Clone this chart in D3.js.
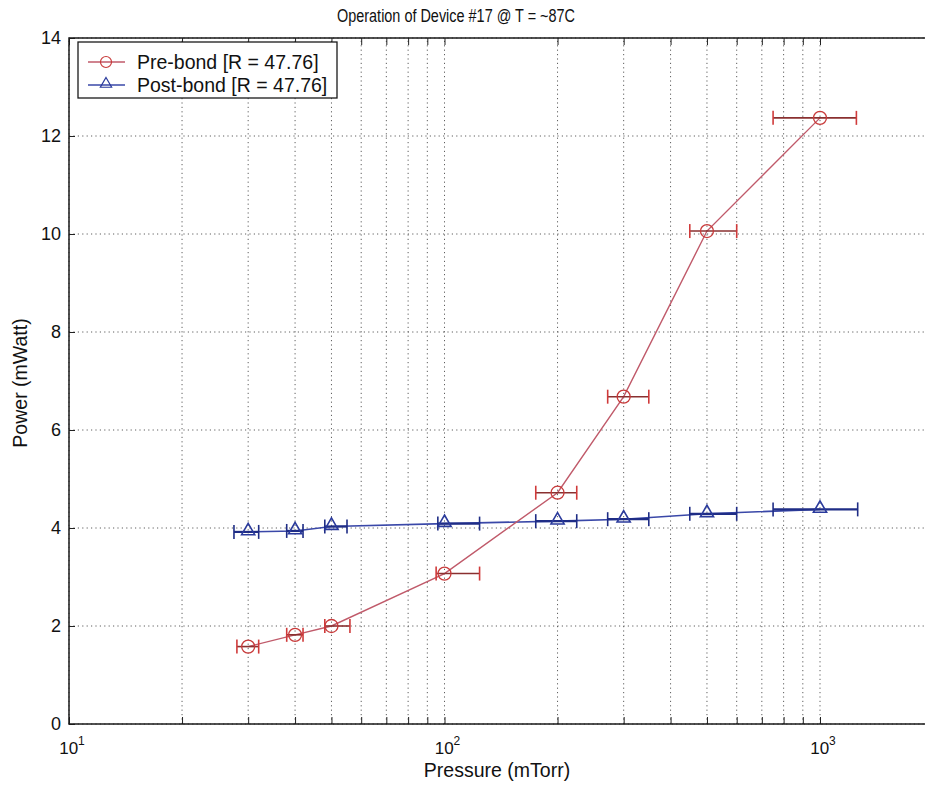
<!DOCTYPE html>
<html>
<head>
<meta charset="utf-8">
<script src="https://cdn.jsdelivr.net/npm/d3@7"></script>
<style>
  html, body { margin: 0; padding: 0; background: #fff; }
  svg { display: block; font-family: "Liberation Sans", Arial, sans-serif; }
</style>
</head>
<body>
<svg id="chart" width="925" height="788"></svg>
<script>
// Measured pressures (mTorr) and output power (mW)
const pressure = [30, 40, 50, 100, 200, 300, 500, 1000];
const preBond  = [1.58, 1.82, 2.0, 3.07, 4.72, 6.68, 10.06, 12.37];
const postBond = [3.92, 3.94, 4.03, 4.09, 4.14, 4.18, 4.29, 4.38];

// Pressure uncertainty ranges (low / high, mTorr)
const preLow   = [28, 38, 48, 95, 175, 272, 450, 750];
const preHigh  = [32, 42, 56, 124, 225, 350, 600, 1250];
const postLow  = [27.5, 38, 48, 96, 175, 272, 450, 750];
const postHigh = [32, 42, 55, 124, 225, 350, 600, 1260];

const seriesNames = ["Pre-bond [R = 47.76]", "Post-bond [R = 47.76]"];
const yTicks = [0, 2, 4, 6, 8, 10, 12, 14];
const xDecades = [10, 100, 1000];
const xMinor = [20, 30, 40, 50, 60, 70, 80, 90, 200, 300, 400, 500, 600, 700, 800, 900, 2000];

const svg = d3.select("#chart");

const plotLeft = 69, plotBottom = 724, plotTop = 38;
const decade = 375.5;
const x = d3.scaleLog().domain([10, 2000]).range([plotLeft, plotLeft + Math.log10(200) * decade]);
const y = d3.scaleLinear().domain([0, 14]).range([plotBottom, plotTop]);
const plotRight = x(2000);

// Grid
const grid = svg.append("g").attr("stroke", "#5e5e5e").attr("stroke-width", 1)
  .attr("stroke-dasharray", "1.2,3.2");
xDecades.concat(xMinor).forEach(v => {
  grid.append("line").attr("x1", x(v)).attr("x2", x(v)).attr("y1", y(0)).attr("y2", y(14));
});
yTicks.forEach(v => {
  grid.append("line").attr("x1", plotLeft).attr("x2", plotRight).attr("y1", y(v)).attr("y2", y(v));
});

// Frame with inward ticks
const axisG = svg.append("g");
const yAxis = d3.axisLeft(y).tickValues(yTicks).tickSize(-6).tickPadding(8).tickFormat(d3.format("d"));
const ga = axisG.append("g").attr("transform", `translate(${plotLeft},0)`).call(yAxis);
ga.select(".domain").remove();
ga.selectAll("line").attr("stroke", "#222");
ga.selectAll("text").attr("font-size", 18).attr("fill", "#111")
  .attr("font-family", "'Liberation Sans', Arial, sans-serif");

const xAxis = d3.axisBottom(x).tickValues(xDecades.concat(xMinor)).tickSize(-7).tickFormat(() => "");
const gx = axisG.append("g").attr("transform", `translate(0,${plotBottom})`).call(xAxis);
gx.select(".domain").remove();
gx.selectAll("line").attr("stroke", "#222");

const xAxisTop = d3.axisTop(x).tickValues(xDecades.concat(xMinor)).tickSize(-7).tickFormat(() => "");
const gxt = axisG.append("g").attr("transform", `translate(0,${plotTop})`).call(xAxisTop);
gxt.select(".domain").remove();
gxt.selectAll("line").attr("stroke", "#222");

axisG.append("rect").attr("x", plotLeft).attr("y", plotTop)
  .attr("width", plotRight - plotLeft).attr("height", plotBottom - plotTop)
  .attr("fill", "none").attr("stroke", "#1a1a1a").attr("stroke-width", 1.5);

// Decade labels 10^n
xDecades.forEach(v => {
  const t = svg.append("text").attr("x", x(v) + 3).attr("y", 754)
    .attr("text-anchor", "middle").attr("font-size", 17).attr("fill", "#111");
  t.append("tspan").text("10");
  t.append("tspan").attr("dy", -9).attr("font-size", 12).text(Math.round(Math.log10(v)));
});

// Titles
svg.append("text").attr("x", 337).attr("y", 22)
  .attr("font-size", 17.5).attr("textLength", 238).attr("lengthAdjust", "spacingAndGlyphs")
  .attr("fill", "#111").text("Operation of Device #17 @ T = ~87C");
svg.append("text").attr("x", 497).attr("y", 777).attr("text-anchor", "middle")
  .attr("font-size", 19.5).attr("fill", "#111").text("Pressure (mTorr)");
svg.append("text").attr("transform", "translate(27,383) rotate(-90)").attr("text-anchor", "middle")
  .attr("font-size", 19.5).attr("fill", "#111").text("Power (mWatt)");

const line = d3.line().x(d => x(d[0])).y(d => y(d[1]));

function errorBars(g, vals, lo, hi, color, width, capColor) {
  vals.forEach((v, i) => {
    g.append("line").attr("x1", x(lo[i])).attr("x2", x(hi[i]))
      .attr("y1", y(v)).attr("y2", y(v)).attr("stroke", color).attr("stroke-width", width);
    [lo[i], hi[i]].forEach(e => {
      g.append("line").attr("x1", x(e)).attr("x2", x(e))
        .attr("y1", y(v) - 7).attr("y2", y(v) + 7).attr("stroke", capColor).attr("stroke-width", 1.6);
    });
  });
}

// Post-bond series
const gPost = svg.append("g");
gPost.append("path").datum(pressure.map((p, i) => [p, postBond[i]]))
  .attr("d", line).attr("fill", "none").attr("stroke", "#3a48a8").attr("stroke-width", 1.6);
errorBars(gPost, postBond, postLow, postHigh, "#1f2d86", 2.2, "#1f2d86");
const tri = d3.symbol().type(d3.symbolTriangle).size(75);
pressure.forEach((p, i) => {
  gPost.append("path").attr("d", tri).attr("transform", `translate(${x(p)},${y(postBond[i]) - 1})`)
    .attr("fill", "none").attr("stroke", "#2a3a9c").attr("stroke-width", 1.6);
});

// Pre-bond series
const gPre = svg.append("g");
gPre.append("path").datum(pressure.map((p, i) => [p, preBond[i]]))
  .attr("d", line).attr("fill", "none").attr("stroke", "#c05a6a").attr("stroke-width", 1.4);
errorBars(gPre, preBond, preLow, preHigh, "#8a3030", 1.6, "#d03a3a");
pressure.forEach((p, i) => {
  gPre.append("circle").attr("cx", x(p)).attr("cy", y(preBond[i])).attr("r", 6.5)
    .attr("fill", "none").attr("stroke", "#c83a3a").attr("stroke-width", 1.3);
});

// Legend
const lg = svg.append("g");
lg.append("rect").attr("x", 78).attr("y", 42).attr("width", 259).attr("height", 56)
  .attr("fill", "#fff").attr("stroke", "#1a1a1a").attr("stroke-width", 1.3);
const legendRows = [
  { name: seriesNames[0], color: "#c05a6a", mark: "circle", mcolor: "#c83a3a" },
  { name: seriesNames[1], color: "#3a48a8", mark: "triangle", mcolor: "#2a3a9c" }
];
legendRows.forEach((r, i) => {
  const cy = 62 + i * 23;
  lg.append("line").attr("x1", 88).attr("x2", 125).attr("y1", cy).attr("y2", cy)
    .attr("stroke", r.color).attr("stroke-width", 1.3);
  if (r.mark === "circle") {
    lg.append("circle").attr("cx", 106).attr("cy", cy).attr("r", 5.5)
      .attr("fill", "none").attr("stroke", r.mcolor).attr("stroke-width", 1.2);
  } else {
    lg.append("path").attr("d", d3.symbol().type(d3.symbolTriangle).size(55))
      .attr("transform", `translate(106,${cy - 1})`)
      .attr("fill", "none").attr("stroke", r.mcolor).attr("stroke-width", 1.2);
  }
  lg.append("text").attr("x", 137).attr("y", cy + 7).attr("font-size", 19.5)
    .attr("fill", "#111").text(r.name);
});
</script>
</body>
</html>
